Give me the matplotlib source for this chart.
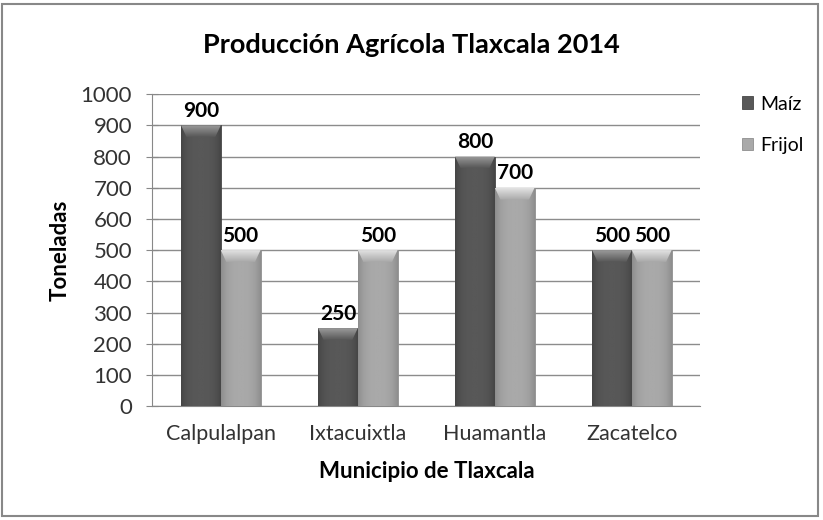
import numpy as np
import matplotlib.pyplot as plt
from matplotlib.patches import Rectangle, Polygon
from matplotlib.colors import LinearSegmentedColormap

municipios = ["Calpulalpan", "Ixtacuixtla", "Huamantla", "Zacatelco"]
maiz = [900, 250, 800, 500]
frijol = [500, 500, 700, 500]
yticks = list(range(0, 1001, 100))

plt.rcParams['font.family'] = ['Lato', 'DejaVu Sans']

fig = plt.figure(figsize=(8.23, 5.2), dpi=100)
ax = fig.add_axes([0.185, 0.219, 0.666, 0.6])

x = np.arange(len(municipios))
w = 0.29
bev = 38
series = [(maiz, "Maíz", "#585858", "#464646", "#9a9a9a", -w / 2),
          (frijol, "Frijol", "#a9a9a9", "#8e8e8e", "#e2e2e2", w / 2)]

prof = np.abs(np.linspace(-1, 1, 50)) ** 3
for vals, name, col, edge, light, off in series:
    body = LinearSegmentedColormap.from_list(name, [col, edge])
    top = LinearSegmentedColormap.from_list(name + "t", [col, light])
    bars = ax.bar(x + off, vals, w, color=col, edgecolor=edge,
                  linewidth=0.6, label=name, zorder=3)
    for b, v in zip(bars, vals):
        x0 = b.get_x()
        bw = b.get_width()
        im = ax.imshow(prof[None, :], cmap=body, extent=[x0, x0 + bw, 0, v],
                       aspect="auto", zorder=3.5, vmin=0, vmax=1)
        im.set_clip_path(b)
        tp = Polygon([[x0, v], [x0 + bw, v], [x0 + bw * 0.86, v - bev],
                      [x0 + bw * 0.14, v - bev]], closed=True,
                     facecolor="none", edgecolor="none", transform=ax.transData)
        ax.add_patch(tp)
        im2 = ax.imshow(np.linspace(1, 0, 30)[:, None], cmap=top,
                        extent=[x0, x0 + bw, v - bev, v], aspect="auto",
                        zorder=4, vmin=0, vmax=1)
        im2.set_clip_path(tp)
        ax.text(x0 + bw / 2, v + 14, str(v), ha="center", va="bottom",
                fontsize=15, fontweight="bold", zorder=5)

ax.set_xlim(-0.5, len(municipios) - 0.5)
ax.set_ylim(0, 1000)
ax.set_aspect("auto")
ax.set_yticks(yticks)
ax.set_xticks(x)
ax.set_xticklabels(municipios, fontsize=15.5, color="#333333")
ax.tick_params(axis="y", labelsize=16, labelcolor="#333333", length=9,
               direction="inout", color="#888888", pad=10)
ax.tick_params(axis="x", length=0, pad=13)
ax.grid(axis="y", color="#8c8c8c", linewidth=1, zorder=0)
for s in ["top", "right"]:
    ax.spines[s].set_visible(False)
ax.spines["left"].set_color("#888888")
ax.spines["bottom"].set_color("#888888")

ax.set_ylabel("Toneladas", fontsize=16, fontweight="bold", labelpad=7)
ax.set_xlabel("Municipio de Tlaxcala", fontsize=16, fontweight="bold", labelpad=12)
fig.text(0.5, 0.913, "Producción Agrícola Tlaxcala 2014", ha="center", va="center",
         fontsize=19.5, fontweight="bold")

leg = fig.legend(loc="upper left", bbox_to_anchor=(0.88, 0.85), frameon=False,
                 fontsize=14, handlelength=0.6, handleheight=0.6, labelspacing=1.25,
                 handletextpad=0.35)

fig.patches.append(Rectangle((0.003, 0.008), 0.991, 0.985, transform=fig.transFigure,
                             fill=False, edgecolor="#888888", linewidth=1.5))

fig.savefig("out.png", dpi=100)
